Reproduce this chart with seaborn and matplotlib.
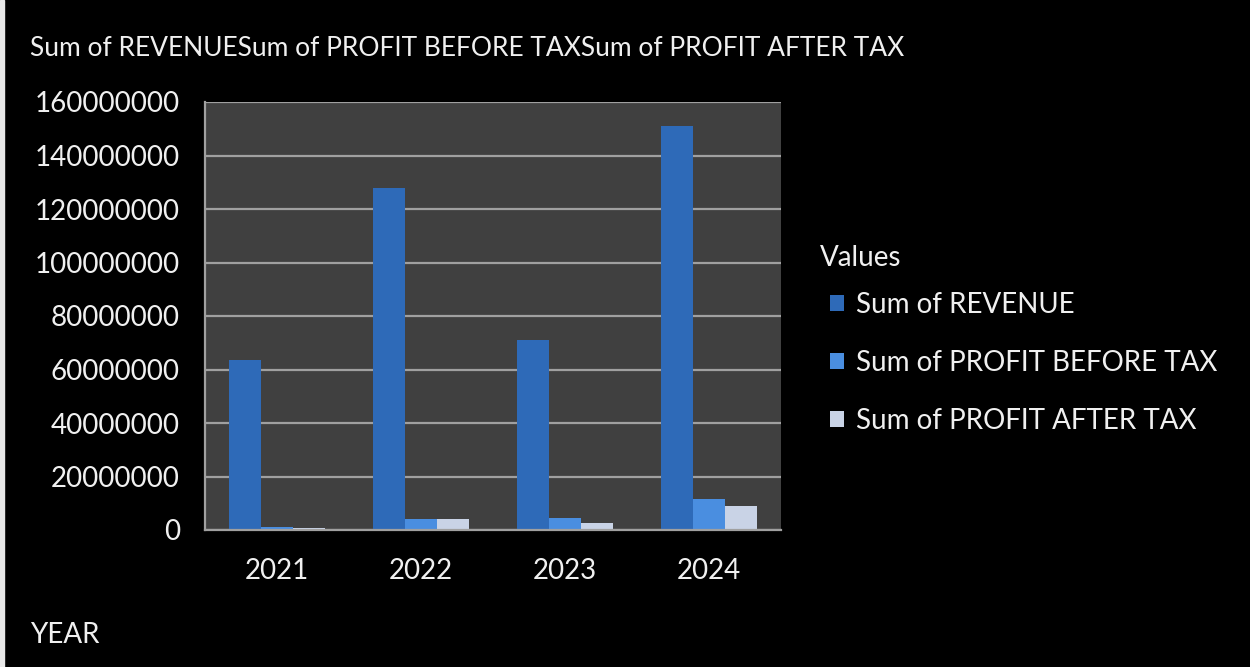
import numpy as np
import pandas as pd
import seaborn as sns
import matplotlib.pyplot as plt
from matplotlib.ticker import FuncFormatter, MultipleLocator, FixedLocator
from matplotlib.patches import Rectangle

# Values
years = ["2021", "2022", "2023", "2024"]
revenue = [63.5e6, 128e6, 71e6, 151e6]
profit_before_tax = [1.2e6, 4.2e6, 4.3e6, 11.5e6]
profit_after_tax = [0.9e6, 4.0e6, 2.8e6, 8.8e6]
series_names = ["Sum of REVENUE", "Sum of PROFIT BEFORE TAX", "Sum of PROFIT AFTER TAX"]
colors = ["#2e6ab8", "#4a8ee0", "#c9d3e6"]

df = pd.DataFrame({
    "YEAR": years * 3,
    "value": revenue + profit_before_tax + profit_after_tax,
    "series": np.repeat(series_names, len(years)),
})

sns.set_theme(style="dark")
plt.rcParams["font.family"] = ["Lato", "DejaVu Sans"]

fig = plt.figure(figsize=(12.5, 6.67), dpi=100, facecolor="black")
ax = fig.add_axes([205 / 1250, 1 - 530 / 667, 576 / 1250, 428 / 667])
ax.set_facecolor("#404040")

sns.barplot(data=df, x="YEAR", y="value", hue="series", palette=colors,
            width=0.66, saturation=1, linewidth=0, ax=ax)

ax.set_xlim(-0.5, 3.5)
ax.set_ylim(0, 160e6)
ax.yaxis.set_major_locator(MultipleLocator(20e6))
ax.yaxis.set_major_formatter(FuncFormatter(lambda v, _: f"{int(round(v))}"))
ax.grid(axis="y", color="#a0a0a0", linewidth=1.6)
ax.grid(axis="x", visible=False)
ax.set_axisbelow(True)

for side in ["top", "right"]:
    ax.spines[side].set_visible(False)
for side in ["left", "bottom"]:
    ax.spines[side].set_visible(True)
    ax.spines[side].set_color("#a0a0a0")
    ax.spines[side].set_linewidth(1.6)

ax.xaxis.set_minor_locator(FixedLocator([-0.5, 0.5, 1.5, 2.5, 3.5]))
ax.tick_params(axis="x", which="major", length=0, pad=20, labelsize=20, labelcolor="#f0f0f0")
ax.tick_params(axis="x", which="minor", length=8, width=1.5, color="#a0a0a0", direction="out")
ax.tick_params(axis="y", length=6, width=1.5, color="#a0a0a0", direction="out",
               labelsize=20, labelcolor="#f0f0f0", pad=12)
ax.set_xlabel("")
ax.set_ylabel("")

# legend entries; the "Values" heading is placed separately to match its spacing
leg = ax.legend(loc="upper left", bbox_to_anchor=(830 / 1250, 1 - 292 / 667),
                bbox_transform=fig.transFigure, frameon=False, fontsize=20,
                labelcolor="#f0f0f0", handlelength=0.5, handleheight=0.5, handletextpad=0.45,
                labelspacing=1.15, borderaxespad=0, borderpad=0)
fig.text(820 / 1250, 1 - 258 / 667, "Values", color="#f0f0f0", fontsize=20, va="center", ha="left")

fig.text(30 / 1250, 1 - 48 / 667, "Sum of REVENUESum of PROFIT BEFORE TAXSum of PROFIT AFTER TAX",
         color="#f0f0f0", fontsize=19, va="center", ha="left")
fig.text(30 / 1250, 1 - 635 / 667, "YEAR", color="#f0f0f0", fontsize=20, va="center", ha="left")
fig.patches.append(Rectangle((0, 0), 4 / 1250, 1, color="#e8e8e8", transform=fig.transFigure))

fig.savefig("out.png", dpi=100, facecolor="black")
